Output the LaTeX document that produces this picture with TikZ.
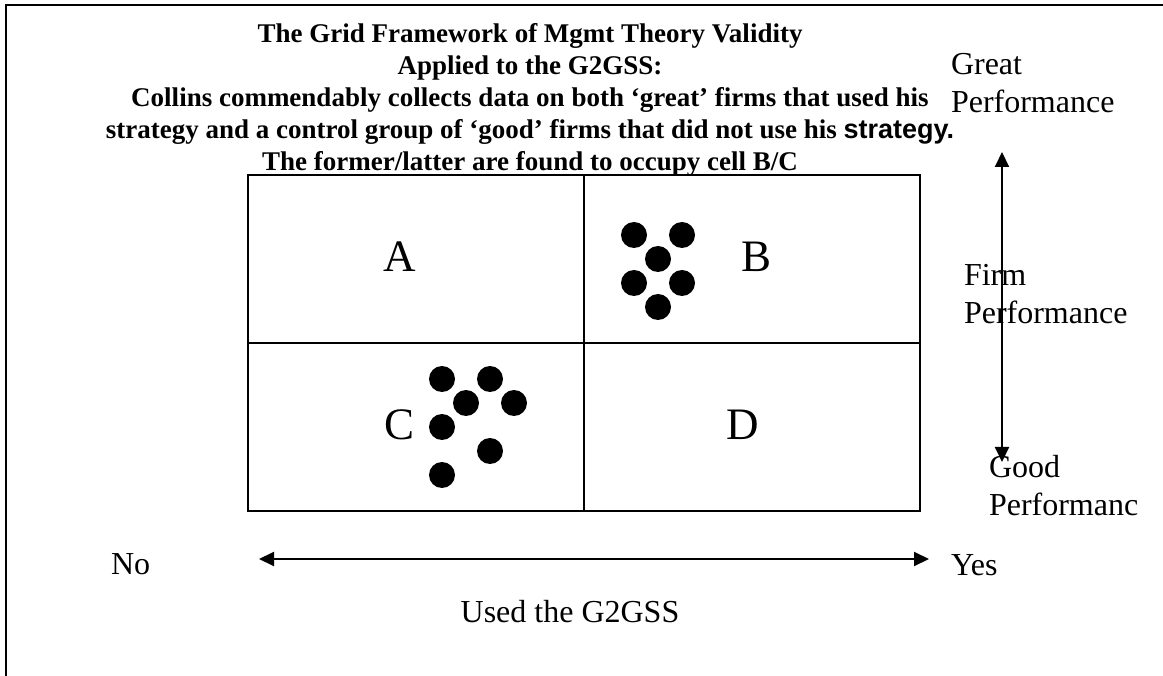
\documentclass[tikz,border=0pt]{standalone}
\usepackage{fontspec}
\setmainfont{Liberation Serif}
\newfontfamily\sansfnt{Liberation Sans}
\usetikzlibrary{arrows.meta}
\tikzset{
  >={Triangle[length=15pt,width=14pt]},
  cell/.style={draw,minimum width=336pt,minimum height=168pt,inner sep=0pt},
  dot/.style={circle,fill,minimum size=26pt,inner sep=0pt},
  cl/.style={font=\fontsize{45}{54}\selectfont,inner sep=0pt,anchor=base},
  lb/.style={font=\fontsize{32}{38}\selectfont,inner sep=0pt,anchor=base west,align=left},
  ttl/.style={font=\bfseries\fontsize{27}{32}\selectfont,inner sep=0pt,anchor=base,align=center},
  every picture/.style={line width=2pt},
}
\begin{document}
\begin{tikzpicture}[x=1pt,y=-1pt]
\useasboundingbox (0,0) rectangle (1163,676);
\draw (1163,5) -- (6,5) -- (6,676);
% base of a multi-line node is its last line
\node[ttl] (title) at (530,171) {The Grid Framework of Mgmt Theory Validity\\
  Applied to the G2GSS:\\
  Collins commendably collects data on both ‘great’ firms that used his\\
  strategy and a control group of ‘good’ firms that did not use his {\sansfnt\bfseries strategy.}\\
  The former/latter are found to occupy cell B/C};
% the 2x2 grid
\node[cell] (cA) at (416,259){}; \node[cell] (cB) at (752,259){};
\node[cell] (cC) at (416,427){}; \node[cell] (cD) at (752,427){};
\node[cl] (la) at (400,272){A}; \node[cl] (lb) at (757,272){B};
\node[cl] (lc) at (400,440){C}; \node[cl] (ld) at (743,440){D};
% great firms in B, good firms in C
\foreach \x/\y [count=\i] in {634/235,682/235,658/259,634/283,682/283,658/307}
  \node[dot] (g\i) at (\x,\y){};
\foreach \x/\y [count=\i] in {442/379,490/379,466/403,514/403,442/427,490/451,442/475}
  \node[dot] (k\i) at (\x,\y){};
% axes
\coordinate (ytop) at (1002,152); \coordinate (ybot) at (1002,462);
\coordinate (xlft) at (259,559); \coordinate (xrgt) at (929,559);
\draw[<->] (ytop) -- (ybot);
\draw[<->] (xlft) -- (xrgt);
\node[lb] (great) at (950,113){Great\\Performance};
\node[lb] (firm) at (963,324){Firm\\Performance};
\node[lb] (good) at (988,515){Good\\Performanc};
\node[lb] (no) at (110,574){No}; \node[lb] (yes) at (950,575){Yes};
\node[lb,anchor=base] (used) at (570,622){Used the G2GSS};
\end{tikzpicture}
\end{document}
